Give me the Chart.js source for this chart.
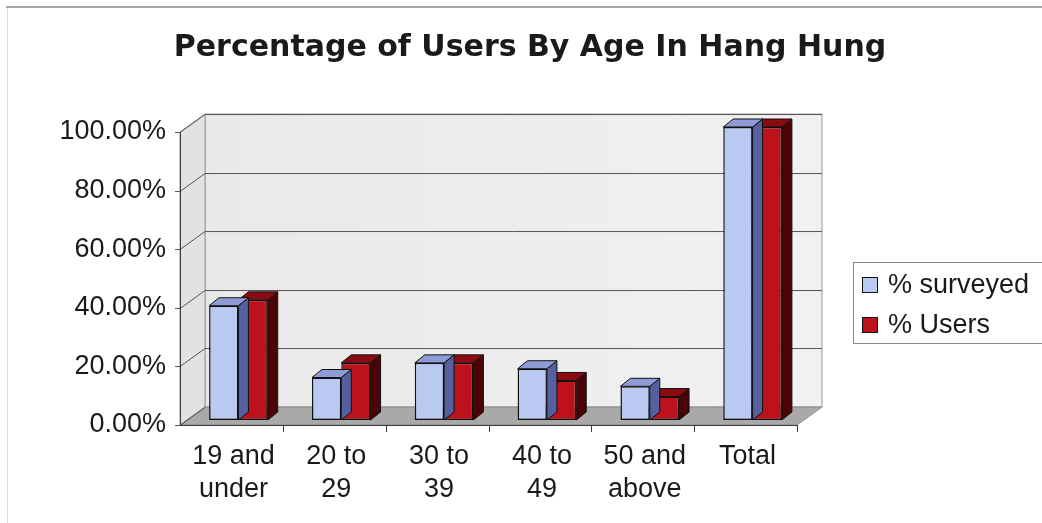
<!DOCTYPE html>
<html>
<head>
<meta charset="utf-8">
<title>Percentage of Users By Age In Hang Hung</title>
<script src="https://cdn.jsdelivr.net/npm/chart.js@4/dist/chart.umd.min.js"></script>
<style>
  html, body { margin: 0; padding: 0; background: #fff; }
</style>
</head>
<body>
<canvas id="chart" width="1042" height="523"></canvas>
<script>
// ---- data ----
const categories = [['19 and', 'under'], ['20 to', '29'], ['30 to', '39'], ['40 to', '49'], ['50 and', 'above'], 'Total'];
const seriesNames = ['% surveyed', '% Users'];
const surveyed = [39, 14.5, 19.5, 17.5, 11.5, 100];
const users = [41, 19.5, 19.5, 13.5, 8, 100];
const yTicks = [0, 20, 40, 60, 80, 100];

// ---- look ----
const FONT = "'Liberation Sans', Arial, sans-serif";
const TITLE_FONT = "'DejaVu Sans', Verdana, sans-serif"; // wide bold like the stretched original
const DEPTH = { x: 25, y: -18 };     // floor depth: front edge -> back wall
const FRONT = 0.28;                  // bars sit this far into the floor
const BAR_DEPTH = { x: 10, y: -8 };  // 3d thickness of each column
const COLORS = [
  { front: '#b9c9f2', top: '#8e9bd6', side: '#56609e' },
  { front: '#bd111b', top: '#8a0b11', side: '#4c0307' }
];

function poly(ctx, pts, fill, stroke, lw) {
  ctx.beginPath();
  ctx.moveTo(pts[0][0], pts[0][1]);
  for (let i = 1; i < pts.length; i++) ctx.lineTo(pts[i][0], pts[i][1]);
  ctx.closePath();
  if (fill) { ctx.fillStyle = fill; ctx.fill(); }
  if (stroke) { ctx.strokeStyle = stroke; ctx.lineWidth = lw || 1; ctx.stroke(); }
}

// walls, floor, gridlines and front axes of the Excel-style 3d plot
const wall3d = {
  id: 'wall3d',
  beforeDraw(chart) {
    const ctx = chart.ctx;
    ctx.save();
    ctx.fillStyle = '#fff';
    ctx.fillRect(0, 0, chart.width, chart.height);
    ctx.strokeStyle = '#d8d8d8';
    ctx.lineWidth = 1;
    ctx.strokeRect(7.5, 6.5, chart.width - 4, chart.height - 4);
    ctx.strokeStyle = '#a8a8a8';
    ctx.lineWidth = 2;
    ctx.beginPath();
    ctx.moveTo(6, 7); ctx.lineTo(chart.width, 7);
    ctx.stroke();
    ctx.restore();
  },
  beforeDatasetsDraw(chart) {
    const ctx = chart.ctx;
    const ca = chart.chartArea;
    const y = chart.scales.y;
    // front plane and back plane offsets from the bars' plane
    const fx = -DEPTH.x * FRONT, fy = -DEPTH.y * FRONT;
    const bx = DEPTH.x * (1 - FRONT), by = DEPTH.y * (1 - FRONT);
    const top = y.getPixelForValue(100), bot = y.getPixelForValue(0);
    ctx.save();
    // back wall
    const g = ctx.createLinearGradient(ca.left + bx, 0, ca.right + bx, 0);
    g.addColorStop(0, '#e9e9e9');
    g.addColorStop(1, '#f1f1f1');
    poly(ctx, [[ca.left + bx, top + by], [ca.right + bx, top + by], [ca.right + bx, bot + by], [ca.left + bx, bot + by]], g, '#9a9a9a', 1);
    // left side wall
    poly(ctx, [[ca.left + fx, top + fy], [ca.left + bx, top + by], [ca.left + bx, bot + by], [ca.left + fx, bot + fy]], '#e2e2e2', '#9a9a9a', 1);
    // floor
    poly(ctx, [[ca.left + fx, bot + fy], [ca.right + fx, bot + fy], [ca.right + bx, bot + by], [ca.left + bx, bot + by]], '#a9a9a9', '#8a8a8a', 1);
    // gridlines on the back wall and the side wall
    ctx.strokeStyle = '#555';
    ctx.lineWidth = 1;
    yTicks.forEach(v => {
      const py = Math.round(y.getPixelForValue(v)) + 0.5;
      ctx.beginPath();
      if (v > 0) {
        ctx.moveTo(ca.right + bx, py + by);
        ctx.lineTo(ca.left + bx, py + by);
      }
      ctx.moveTo(ca.left + bx, py + by);
      ctx.lineTo(ca.left + fx, py + fy);
      ctx.lineTo(ca.left + fx - 5, py + fy);
      ctx.stroke();
    });
    // front value axis
    ctx.strokeStyle = '#3a3a3a';
    ctx.beginPath();
    ctx.moveTo(Math.round(ca.left + fx) + 0.5, top + fy);
    ctx.lineTo(Math.round(ca.left + fx) + 0.5, bot + fy);
    // front category axis with ticks between categories
    ctx.moveTo(ca.left + fx, Math.round(bot + fy) + 0.5);
    ctx.lineTo(ca.right + fx, Math.round(bot + fy) + 0.5);
    const step = (ca.right - ca.left) / categories.length;
    for (let i = 1; i <= categories.length; i++) {
      const px = Math.round(ca.left + fx + i * step) + 0.5;
      ctx.moveTo(px, bot + fy);
      ctx.lineTo(px, bot + fy + 7);
    }
    ctx.stroke();
    ctx.restore();
  },
  afterDatasetDraw(chart, args) {
    const ctx = chart.ctx;
    const col = COLORS[args.index];
    ctx.save();
    args.meta.data.forEach(bar => {
      const p = bar.getProps(['x', 'y', 'base', 'width'], true);
      const l = p.x - p.width / 2, r = p.x + p.width / 2;
      const dx = BAR_DEPTH.x, dy = BAR_DEPTH.y;
      poly(ctx, [[r, p.y], [r + dx, p.y + dy], [r + dx, p.base + dy], [r, p.base]], col.side, '#111', 1);
      poly(ctx, [[l, p.y], [l + dx, p.y + dy], [r + dx, p.y + dy], [r, p.y]], col.top, '#111', 1);
    });
    ctx.restore();
  },
  afterDraw(chart) {
    // boxed legend on the right
    const ctx = chart.ctx;
    const ca = chart.chartArea;
    const lx = ca.right + 49, ly = ca.top + 135;
    ctx.save();
    ctx.fillStyle = '#fff';
    ctx.fillRect(lx, ly, chart.width - lx + 5, 81);
    ctx.strokeStyle = '#8a8a8a';
    ctx.lineWidth = 1;
    ctx.strokeRect(lx + 0.5, ly + 0.5, chart.width - lx + 5, 81);
    ctx.font = '27px ' + FONT;
    ctx.textBaseline = 'middle';
    chart.data.datasets.forEach((ds, i) => {
      const cy = ly + 23 + i * 40;
      ctx.fillStyle = COLORS[i].front;
      ctx.fillRect(lx + 9.5, cy - 7.5, 15, 15);
      ctx.strokeStyle = '#111';
      ctx.strokeRect(lx + 9.5, cy - 7.5, 15, 15);
      ctx.fillStyle = '#1a1a1a';
      ctx.fillText(ds.label, lx + 35, cy + 1);
    });
    ctx.restore();
  }
};

new Chart(document.getElementById('chart'), {
  type: 'bar',
  data: {
    labels: categories,
    datasets: [
      { label: seriesNames[0], data: surveyed, backgroundColor: COLORS[0].front },
      { label: seriesNames[1], data: users, backgroundColor: COLORS[1].front }
    ]
  },
  options: {
    responsive: false,
    animation: false,
    devicePixelRatio: 1,
    layout: { padding: { left: 18, right: 0, top: 0, bottom: 0 } },
    datasets: {
      bar: {
        borderColor: '#111',
        borderWidth: 1.5,
        borderSkipped: false,
        categoryPercentage: 0.57,
        barPercentage: 1
      }
    },
    plugins: {
      legend: { display: false },
      tooltip: { enabled: false },
      title: {
        display: true,
        text: 'Percentage of Users By Age In Hang Hung',
        color: '#1a1a1a',
        font: { family: TITLE_FONT, size: 30, weight: 'bold', lineHeight: 1.2 },
        padding: { top: 30, bottom: 61 }
      }
    },
    scales: {
      x: {
        grid: { display: false, drawTicks: false },
        border: { display: false },
        ticks: {
          color: '#1a1a1a',
          font: { family: FONT, size: 27, lineHeight: 1.23 },
          padding: 20,
          labelOffset: -5,
          maxRotation: 0,
          autoSkip: false
        },
        afterFit(scale) { scale.height = 103; }
      },
      y: {
        min: 0,
        max: 100,
        grid: { display: false, drawTicks: false },
        border: { display: false },
        afterBuildTicks(scale) { scale.ticks = yTicks.map(v => ({ value: v })); },
        ticks: {
          color: '#1a1a1a',
          font: { family: FONT, size: 27 },
          padding: 21,
          labelOffset: 5,
          callback: v => v.toFixed(2) + '%'
        },
        afterFit(scale) { scale.width = 169; }
      },
      // empty right-hand scale that keeps room for the legend box
      legendRoom: {
        type: 'linear',
        position: 'right',
        min: 0,
        max: 100,
        grid: { display: false, drawTicks: false },
        border: { display: false },
        ticks: { display: false },
        afterFit(scale) { scale.width = 238; }
      }
    }
  },
  plugins: [wall3d]
});
</script>
</body>
</html>
